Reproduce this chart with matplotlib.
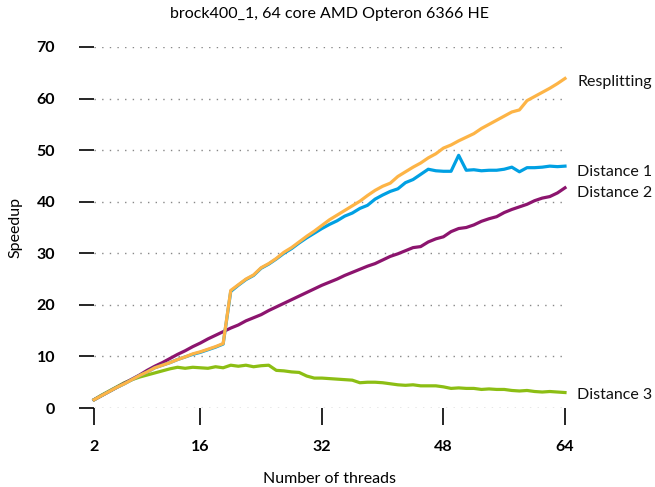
import matplotlib

matplotlib.use("Agg")
import matplotlib.pyplot as plt

plt.rcParams["font.family"] = ["Lato", "DejaVu Sans"]

# Threads on the x axis and speedup per method.
threads = list(range(2, 65))

resplitting = [
	1.6, 2.4, 3.2, 4.0, 4.7, 5.5, 6.3, 7.0, 7.8, 8.3,
	8.8, 9.4, 9.9, 10.5, 10.9, 11.4, 11.9, 12.5, 22.8, 23.9,
	25.0, 25.8, 27.2, 28.0, 29.0, 30.2, 31.1, 32.2, 33.3, 34.3,
	35.4, 36.5, 37.4, 38.3, 39.2, 40.1, 41.2, 42.2, 43.0, 43.6,
	44.9, 45.8, 46.7, 47.5, 48.5, 49.3, 50.4, 51.0, 51.8, 52.5,
	53.2, 54.2, 55.0, 55.8, 56.6, 57.4, 57.8, 59.6, 60.4, 61.2,
	62.0, 62.9, 63.9,
]
distance_1 = [
	1.6, 2.4, 3.2, 4.0, 4.7, 5.5, 6.3, 7.0, 7.8, 8.3,
	8.8, 9.4, 9.9, 10.4, 10.8, 11.3, 11.8, 12.4, 22.6, 23.8,
	24.9, 25.7, 27.1, 27.9, 28.9, 30.0, 30.9, 32.0, 33.0, 33.9,
	34.8, 35.6, 36.3, 37.2, 37.8, 38.7, 39.3, 40.5, 41.3, 42.0,
	42.5, 43.7, 44.3, 45.3, 46.3, 46.0, 45.9, 45.9, 49.0, 46.1,
	46.2, 46.0, 46.1, 46.1, 46.3, 46.7, 45.8, 46.6, 46.6, 46.7,
	46.9, 46.8, 46.9,
]
distance_2 = [
	1.6, 2.4, 3.2, 4.0, 4.8, 5.6, 6.4, 7.3, 8.1, 8.8,
	9.6, 10.4, 11.1, 11.9, 12.6, 13.4, 14.1, 14.8, 15.5, 16.1,
	16.9, 17.5, 18.1, 18.9, 19.6, 20.3, 21.0, 21.7, 22.4, 23.1,
	23.8, 24.4, 25.0, 25.7, 26.3, 26.9, 27.5, 28.0, 28.7, 29.4,
	29.9, 30.5, 31.1, 31.3, 32.2, 32.8, 33.2, 34.2, 34.8, 35.0,
	35.5, 36.2, 36.7, 37.1, 37.9, 38.5, 39.0, 39.5, 40.2, 40.7,
	41.0, 41.7, 42.7,
]
distance_3 = [
	1.6, 2.5, 3.3, 4.1, 4.9, 5.5, 6.0, 6.4, 6.8, 7.2,
	7.6, 7.9, 7.7, 7.9, 7.8, 7.7, 8.0, 7.8, 8.3, 8.1,
	8.3, 8.0, 8.2, 8.3, 7.3, 7.2, 7.0, 6.9, 6.2, 5.8,
	5.8, 5.7, 5.6, 5.5, 5.4, 4.9, 5.0, 5.0, 4.9, 4.7,
	4.5, 4.4, 4.5, 4.3, 4.3, 4.3, 4.1, 3.8, 3.9, 3.8,
	3.8, 3.6, 3.7, 3.6, 3.6, 3.4, 3.3, 3.4, 3.2, 3.1,
	3.2, 3.1, 3.0,
]

x_ticks = [2, 16, 32, 48, 64]
y_ticks = [0, 10, 20, 30, 40, 50, 60, 70]

series = [
	("Distance 3", distance_3, "#8cbe14"),
	("Distance 2", distance_2, "#8c146e"),
	("Distance 1", distance_1, "#00a0e3"),
	("Resplitting", resplitting, "#fdb446"),
]
# label y positions nudged so Distance 1 / Distance 2 do not collide
label_y = {"Resplitting": 63.2, "Distance 1": 45.8, "Distance 2": 41.7, "Distance 3": 2.6}

fig = plt.figure(figsize=(6.55, 4.87), dpi=100)
ax = fig.add_axes([0.1435, 0.1622, 0.7191, 0.7413])

for name, values, color in series:
	ax.plot(threads, values, color=color, lw=2.3, solid_joinstyle="round", clip_on=False, zorder=3)
	ax.text(65.6, label_y[name], name, fontsize=11.5, va="center", ha="left", color="#111111")

ax.set_xlim(2, 64)
ax.set_ylim(0, 70)
for y in y_ticks:
	ax.plot([2, 64], [y, y], color="#888888", lw=1.0, ls=(0, (1, 4.5)), zorder=1)

for side in ["top", "right", "left", "bottom"]:
	ax.spines[side].set_visible(False)

ax.set_xticks(x_ticks)
ax.set_yticks(y_ticks)
ax.tick_params(axis="x", direction="out", length=12, width=1.2, pad=11, labelsize=11.5)
ax.tick_params(axis="y", direction="out", length=11, width=1.2, pad=17, labelsize=11.5)
for lab in ax.get_xticklabels() + ax.get_yticklabels():
	lab.set_fontweight("bold")

ax.set_title("brock400_1, 64 core AMD Opteron 6366 HE", fontsize=11.5, pad=21)
ax.set_xlabel("Number of threads", fontsize=11.5, labelpad=13)
ax.set_ylabel("Speedup", fontsize=11.5, labelpad=10)

fig.savefig("out.png", dpi=100)
